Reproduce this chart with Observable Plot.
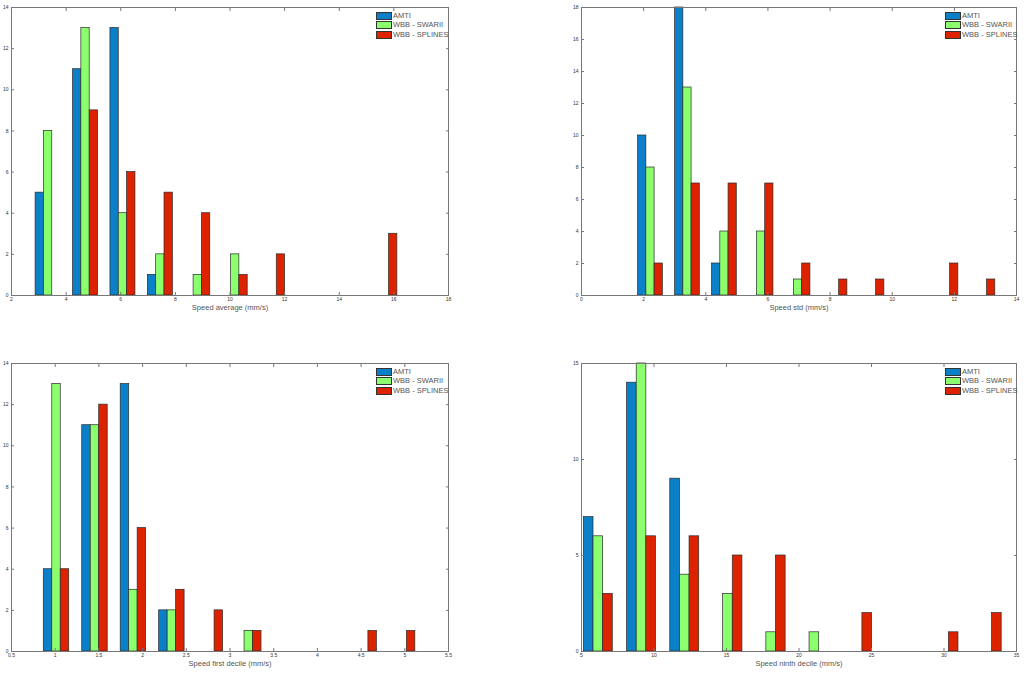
<!DOCTYPE html>
<html>
<head>
<meta charset="utf-8">
<script src="https://cdn.jsdelivr.net/npm/d3@7"></script>
<script src="https://cdn.jsdelivr.net/npm/@observablehq/plot@0.6"></script>
<style>
  html, body { margin: 0; padding: 0; background: #fff; }
  #root { position: relative; width: 1024px; height: 674px; background: #fff; font-family: "Liberation Sans", Arial, sans-serif; }
  .panel { position: absolute; }
  .legend { position: absolute; font-size: 7.5px; color: #555; line-height: 10px; }
  .legend .row { display: flex; align-items: center; height: 9.6px; }
  .legend .sw { width: 14px; height: 6px; border: 0.8px solid #333; margin-right: 1px; }
</style>
</head>
<body>
<div id="root"></div>
<script>
const seriesNames = ["AMTI", "WBB - SWARII", "WBB - SPLINES"];
const seriesColors = ["#0b80c8", "#8cff6e", "#dd2200"];

// Panel 1: Speed average
const avgCenters = [3.34, 4.71, 6.08, 7.45, 8.82, 10.19, 11.56, 12.93, 14.30, 15.67];
const avgAMTI    = [5, 11, 13, 1, 0, 0, 0, 0, 0, 0];
const avgSWARII  = [8, 13, 4, 2, 1, 2, 0, 0, 0, 0];
const avgSPLINES = [0, 9, 6, 5, 4, 1, 2, 0, 0, 3];
const avgXTicks = [2, 4, 6, 8, 10, 12, 14, 16, 18];
const avgYTicks = [0, 2, 4, 6, 8, 10, 12, 14];

// Panel 2: Speed std
const stdCenters = [2.22, 3.41, 4.60, 5.78, 6.97, 8.16, 9.35, 10.54, 11.73, 12.92];
const stdAMTI    = [10, 18, 2, 0, 0, 0, 0, 0, 0, 0];
const stdSWARII  = [8, 13, 4, 4, 1, 0, 0, 0, 0, 0];
const stdSPLINES = [2, 7, 7, 7, 2, 1, 1, 0, 2, 1];
const stdXTicks = [0, 2, 4, 6, 8, 10, 12, 14];
const stdYTicks = [0, 2, 4, 6, 8, 10, 12, 14, 16, 18];

// Panel 3: Speed first decile
const d1Centers = [1.015, 1.455, 1.895, 2.335, 2.775, 3.215, 3.655, 4.095, 4.535, 4.975];
const d1AMTI    = [4, 11, 13, 2, 0, 0, 0, 0, 0, 0];
const d1SWARII  = [13, 11, 3, 2, 0, 1, 0, 0, 0, 0];
const d1SPLINES = [4, 12, 6, 3, 2, 1, 0, 0, 1, 1];
const d1XTicks = [0.5, 1, 1.5, 2, 2.5, 3, 3.5, 4, 4.5, 5, 5.5];
const d1YTicks = [0, 2, 4, 6, 8, 10, 12, 14];

// Panel 4: Speed ninth decile
const d9Centers = [6.16, 9.14, 12.12, 15.10, 18.08, 21.06, 24.04, 27.02, 30.00, 32.98];
const d9AMTI    = [7, 14, 9, 0, 0, 0, 0, 0, 0, 0];
const d9SWARII  = [6, 15, 4, 3, 1, 1, 0, 0, 0, 0];
const d9SPLINES = [3, 6, 6, 5, 5, 0, 2, 0, 1, 2];
const d9XTicks = [5, 10, 15, 20, 25, 30, 35];
const d9YTicks = [0, 5, 10, 15];

const panels = [
  {label: "Speed average (mm/s)", centers: avgCenters, counts: [avgAMTI, avgSWARII, avgSPLINES], barW: 0.305,
   xDomain: [2, 18], yDomain: [0, 14], xTicks: avgXTicks, yTicks: avgYTicks,
   left: 0, top: 0, width: 470, height: 330, mL: 11, mR: 22, mT: 7, mB: 35, legX: 376, legY: 11},
  {label: "Speed std (mm/s)", centers: stdCenters, counts: [stdAMTI, stdSWARII, stdSPLINES], barW: 0.265,
   xDomain: [0, 14], yDomain: [0, 18], xTicks: stdXTicks, yTicks: stdYTicks,
   left: 560, top: 0, width: 464, height: 330, mL: 21, mR: 8, mT: 7, mB: 35, legX: 945, legY: 11},
  {label: "Speed first decile (mm/s)", centers: d1Centers, counts: [d1AMTI, d1SWARII, d1SPLINES], barW: 0.097,
   xDomain: [0.5, 5.5], yDomain: [0, 14], xTicks: d1XTicks, yTicks: d1YTicks,
   left: 0, top: 350, width: 470, height: 324, mL: 11, mR: 22, mT: 13, mB: 23, legX: 376, legY: 367},
  {label: "Speed ninth decile (mm/s)", centers: d9Centers, counts: [d9AMTI, d9SWARII, d9SPLINES], barW: 0.665,
   xDomain: [5, 35], yDomain: [0, 15], xTicks: d9XTicks, yTicks: d9YTicks,
   left: 560, top: 350, width: 464, height: 324, mL: 21, mR: 8, mT: 13, mB: 23, legX: 945, legY: 367}
];

const root = document.getElementById("root");
const fmt = d => String(d);
const axisColor = "#777";

for (const p of panels) {
  const rows = [];
  p.counts.forEach((arr, i) => {
    arr.forEach((v, k) => {
      if (v > 0) rows.push({
        series: seriesNames[i],
        x1: p.centers[k] + (i - 1.5) * p.barW,
        x2: p.centers[k] + (i - 0.5) * p.barW,
        y: v
      });
    });
  });

  const chart = Plot.plot({
    width: p.width,
    height: p.height,
    marginLeft: p.mL, marginRight: p.mR, marginTop: p.mT, marginBottom: p.mB,
    style: {fontFamily: "Liberation Sans, Arial, sans-serif", fontSize: "5px", color: "#333", background: "transparent", overflow: "visible"},
    x: {domain: p.xDomain},
    y: {domain: p.yDomain},
    color: {domain: seriesNames, range: seriesColors},
    marks: [
      Plot.rectY(rows, {x1: "x1", x2: "x2", y: "y", fill: "series", stroke: "#2a2a2a", strokeWidth: 0.7}),
      Plot.frame({stroke: axisColor, strokeWidth: 1}),
      Plot.axisX(p.xTicks, {anchor: "bottom", tickSize: 0, tickPadding: 2, tickFormat: fmt, label: null, fill: "#333"}),
      Plot.axisX(p.xTicks, {anchor: "bottom", tickSize: -3, tickFormat: () => "", label: null, stroke: axisColor}),
      Plot.axisX(p.xTicks, {anchor: "top", tickSize: -3, tickFormat: () => "", label: null, stroke: axisColor}),
      Plot.axisY(p.yTicks, {anchor: "left", tickSize: 0, tickPadding: 3, tickFormat: fmt, label: null, fill: "#333"}),
      Plot.axisY(p.yTicks, {anchor: "left", tickSize: -3, tickFormat: () => "", label: null, stroke: axisColor}),
      Plot.axisY(p.yTicks, {anchor: "right", tickSize: -3, tickFormat: () => "", label: null, stroke: axisColor}),
      Plot.text([p.label], {frameAnchor: "bottom", dy: 14.5, text: d => d, fontSize: 7.5, fill: "#555"})
    ]
  });
  const wrap = document.createElement("div");
  wrap.className = "panel";
  wrap.style.left = p.left + "px";
  wrap.style.top = p.top + "px";
  wrap.appendChild(chart);
  root.appendChild(wrap);

  const leg = document.createElement("div");
  leg.className = "legend";
  leg.style.left = p.legX + "px";
  leg.style.top = p.legY + "px";
  seriesNames.forEach((name, i) => {
    const row = document.createElement("div");
    row.className = "row";
    const sw = document.createElement("div");
    sw.className = "sw";
    sw.style.background = seriesColors[i];
    const t = document.createElement("span");
    t.textContent = name;
    row.appendChild(sw);
    row.appendChild(t);
    leg.appendChild(row);
  });
  root.appendChild(leg);
}
</script>
</body>
</html>
